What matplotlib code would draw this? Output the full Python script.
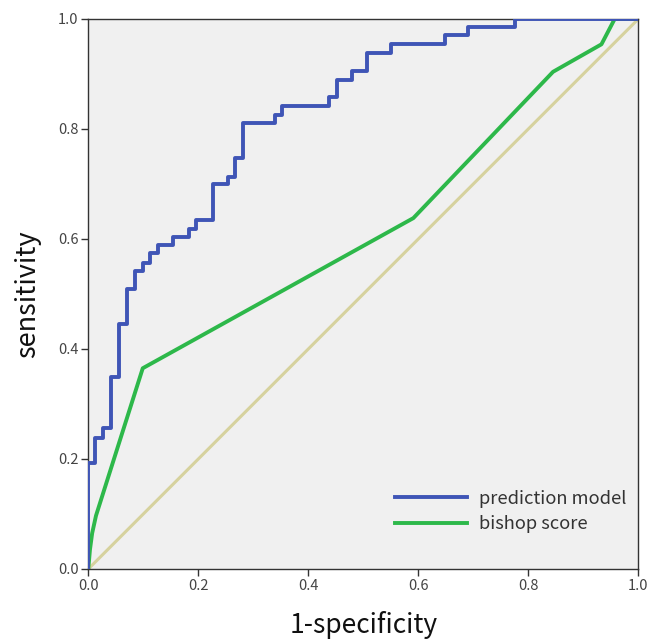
import matplotlib
matplotlib.use("Agg")
import matplotlib.pyplot as plt

plt.rcParams['font.family'] = ['Noto Sans CJK SC', 'DejaVu Sans']

# prediction model ROC (step curve: fpr where tpr jumps, tpr after jump)
pm_fpr = [0.0, 0.0, 0.012, 0.027, 0.041, 0.056, 0.071, 0.085, 0.099, 0.112,
          0.126, 0.154, 0.183, 0.196, 0.226, 0.254, 0.267, 0.282, 0.339,
          0.352, 0.438, 0.452, 0.480, 0.507, 0.550, 0.648, 0.690, 0.776, 1.0]
pm_tpr = [0.0, 0.193, 0.239, 0.256, 0.349, 0.445, 0.509, 0.541, 0.556, 0.574,
          0.589, 0.604, 0.619, 0.635, 0.700, 0.713, 0.747, 0.810, 0.825,
          0.841, 0.858, 0.889, 0.905, 0.938, 0.955, 0.971, 0.986, 1.0, 1.0]

# bishop score ROC
bs_fpr = [0.0, 0.003, 0.007, 0.014, 0.099, 0.591, 0.845, 0.933, 0.957, 1.0]
bs_tpr = [0.0, 0.035, 0.065, 0.097, 0.365, 0.638, 0.904, 0.954, 1.0, 1.0]

ref = [0.0, 1.0]
ticks = [0.0, 0.2, 0.4, 0.6, 0.8, 1.0]
tick_labels = ["0.0", "0.2", "0.4", "0.6", "0.8", "1.0"]

fig = plt.figure(figsize=(6.5, 6.41), dpi=100)
ax = fig.add_axes([88.3 / 650, (641 - 569) / 641, 550 / 650, 550 / 641])
ax.set_facecolor('#f0f0f0')

ax.plot(ref, ref, color='#d6d29e', lw=2.2, zorder=1)
ax.plot(bs_fpr, bs_tpr, color='#2db84a', lw=2.8, label='bishop score', zorder=2,
        solid_joinstyle='round')
ax.plot(pm_fpr, pm_tpr, color='#3f55b6', lw=2.8, drawstyle='steps-post',
        label='prediction model', zorder=3)

ax.set_xlim(0, 1)
ax.set_ylim(0, 1)
ax.set_xticks(ticks)
ax.set_xticklabels(tick_labels)
ax.set_yticks(ticks)
ax.set_yticklabels(tick_labels)
ax.tick_params(direction='out', length=5, width=1, colors='#333333',
               labelsize=10.5, labelcolor='#444444', pad=2)
for s in ax.spines.values():
    s.set_color('#333333')
    s.set_linewidth(1.0)

ax.set_xlabel('1-specificity', fontsize=19, color='#111111', labelpad=13)
ax.set_ylabel('sensitivity', fontsize=19.5, color='#111111', labelpad=12)

handles, labels = ax.get_legend_handles_labels()
order = [1, 0]
leg = ax.legend([handles[i] for i in order], [labels[i] for i in order],
                loc='lower right', bbox_to_anchor=(1.008, 0.035),
                frameon=False, fontsize=13.2, handlelength=3.9,
                handletextpad=0.65, labelspacing=0.4)
for t in leg.get_texts():
    t.set_color('#333333')

fig.savefig('out.png', dpi=100)
